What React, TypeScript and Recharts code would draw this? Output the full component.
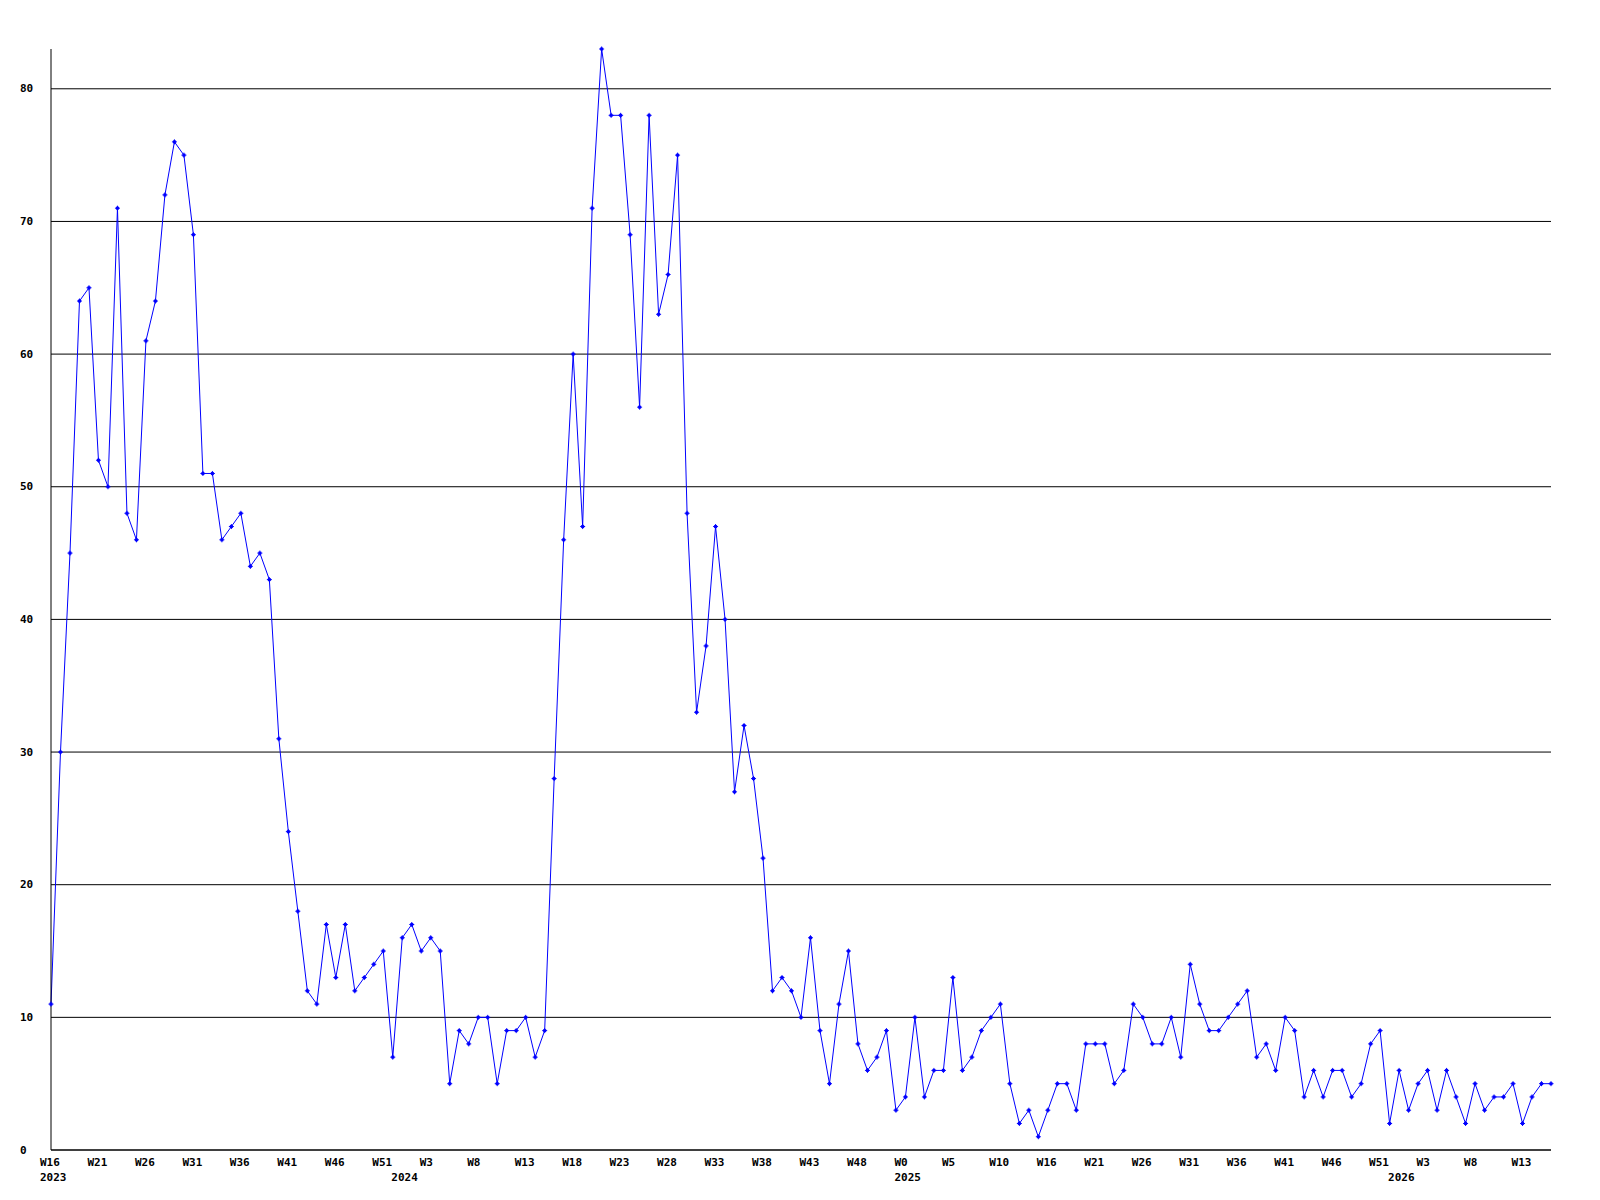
import React from 'react';
import { LineChart, Line, XAxis, YAxis, ReferenceLine } from 'recharts';

const values: number[] = [
  11, 30, 45, 64, 65, 52, 50, 71, 48, 46,
  61, 64, 72, 76, 75, 69, 51, 51, 46, 47,
  48, 44, 45, 43, 31, 24, 18, 12, 11, 17,
  13, 17, 12, 13, 14, 15, 7, 16, 17, 15,
  16, 15, 5, 9, 8, 10, 10, 5, 9, 9,
  10, 7, 9, 28, 46, 60, 47, 71, 83, 78,
  78, 69, 56, 78, 63, 66, 75, 48, 33, 38,
  47, 40, 27, 32, 28, 22, 12, 13, 12, 10,
  16, 9, 5, 11, 15, 8, 6, 7, 9, 3,
  4, 10, 4, 6, 6, 13, 6, 7, 9, 10,
  11, 5, 2, 3, 1, 3, 5, 5, 3, 8,
  8, 8, 5, 6, 11, 10, 8, 8, 10, 7,
  14, 11, 9, 9, 10, 11, 12, 7, 8, 6,
  10, 9, 4, 6, 4, 6, 6, 4, 5, 8,
  9, 2, 6, 3, 5, 6, 3, 6, 4, 2,
  5, 3, 4, 4, 5, 2, 4, 5, 5,
];

// week labels shown on every 5th point
const weekTickLabels: string[] = [
  'W16', 'W21', 'W26', 'W31', 'W36', 'W41', 'W46', 'W51', 'W3', 'W8', 'W13',
  'W18', 'W23', 'W28', 'W33', 'W38', 'W43', 'W48', 'W0', 'W5', 'W10', 'W16',
  'W21', 'W26', 'W31', 'W36', 'W41', 'W46', 'W51', 'W3', 'W8', 'W13',
];
const weekTickStep = 5;

// first point of each year
const yearLabels: string[] = ['2023', '2024', '2025', '2026'];
const yearStartIndex: number[] = [0, 37, 90, 142];

const yTicks: number[] = [0, 10, 20, 30, 40, 50, 60, 70, 80];

const data = values.map((v, i) => ({ idx: i, value: v }));

const FONT = '"DejaVu Sans Mono", monospace';

const XTick = (props: any) => {
  const { x, payload } = props;
  const i = payload.value as number;
  const parts: React.ReactNode[] = [];
  if (i % weekTickStep === 0) {
    const lbl = weekTickLabels[i / weekTickStep];
    if (lbl) {
      parts.push(
        <text key="w" x={x - 11} y={1162} textAnchor="start" dominantBaseline="central"
          fontFamily={FONT} fontWeight="bold" fontSize={11} fill="#000">{lbl}</text>
      );
    }
  }
  const yi = yearStartIndex.indexOf(i);
  if (yi >= 0) {
    parts.push(
      <text key="y" x={x - 11} y={1177} textAnchor="start" dominantBaseline="central"
        fontFamily={FONT} fontWeight="bold" fontSize={11} fill="#000">{yearLabels[yi]}</text>
    );
  }
  return <g>{parts}</g>;
};

const YTick = (props: any) => {
  const { y, payload } = props;
  return (
    <text x={20} y={y} textAnchor="start" dominantBaseline="central"
      fontFamily={FONT} fontWeight="bold" fontSize={11} fill="#000">{payload.value}</text>
  );
};

const Marker = (props: any) => {
  const { cx, cy, index } = props;
  if (cx == null || cy == null) return <g key={index} />;
  return (
    <g key={index} fill="#0000ff">
      <rect x={cx - 1.5} y={cy - 1.5} width={3} height={3} />
      <rect x={cx - 2.5} y={cy - 0.5} width={5} height={1} />
      <rect x={cx - 0.5} y={cy - 2.5} width={1} height={5} />
    </g>
  );
};

export default function App() {
  return (
    <div style={{ position: 'absolute', left: 0, top: 0, width: 1600, height: 1200, background: '#fff' }}>
      <LineChart width={1600} height={1200} data={data}
        margin={{ top: 49, right: 49, left: 0, bottom: 0 }}>
        <XAxis dataKey="idx" type="category" interval={0} height={50}
          axisLine={{ stroke: '#000', strokeWidth: 1 }} tickLine={false} tick={<XTick />} />
        <YAxis type="number" domain={[0, 83]} ticks={yTicks} width={51}
          axisLine={{ stroke: '#000', strokeWidth: 1 }} tickLine={false} tick={<YTick />} />
        {yTicks.map((t) => (
          <ReferenceLine key={t} y={t} stroke="#000" strokeWidth={1} ifOverflow="visible" />
        ))}
        <Line type="linear" dataKey="value" stroke="#0000ff" strokeWidth={1}
          dot={<Marker />} activeDot={false} isAnimationActive={false} />
      </LineChart>
    </div>
  );
}
